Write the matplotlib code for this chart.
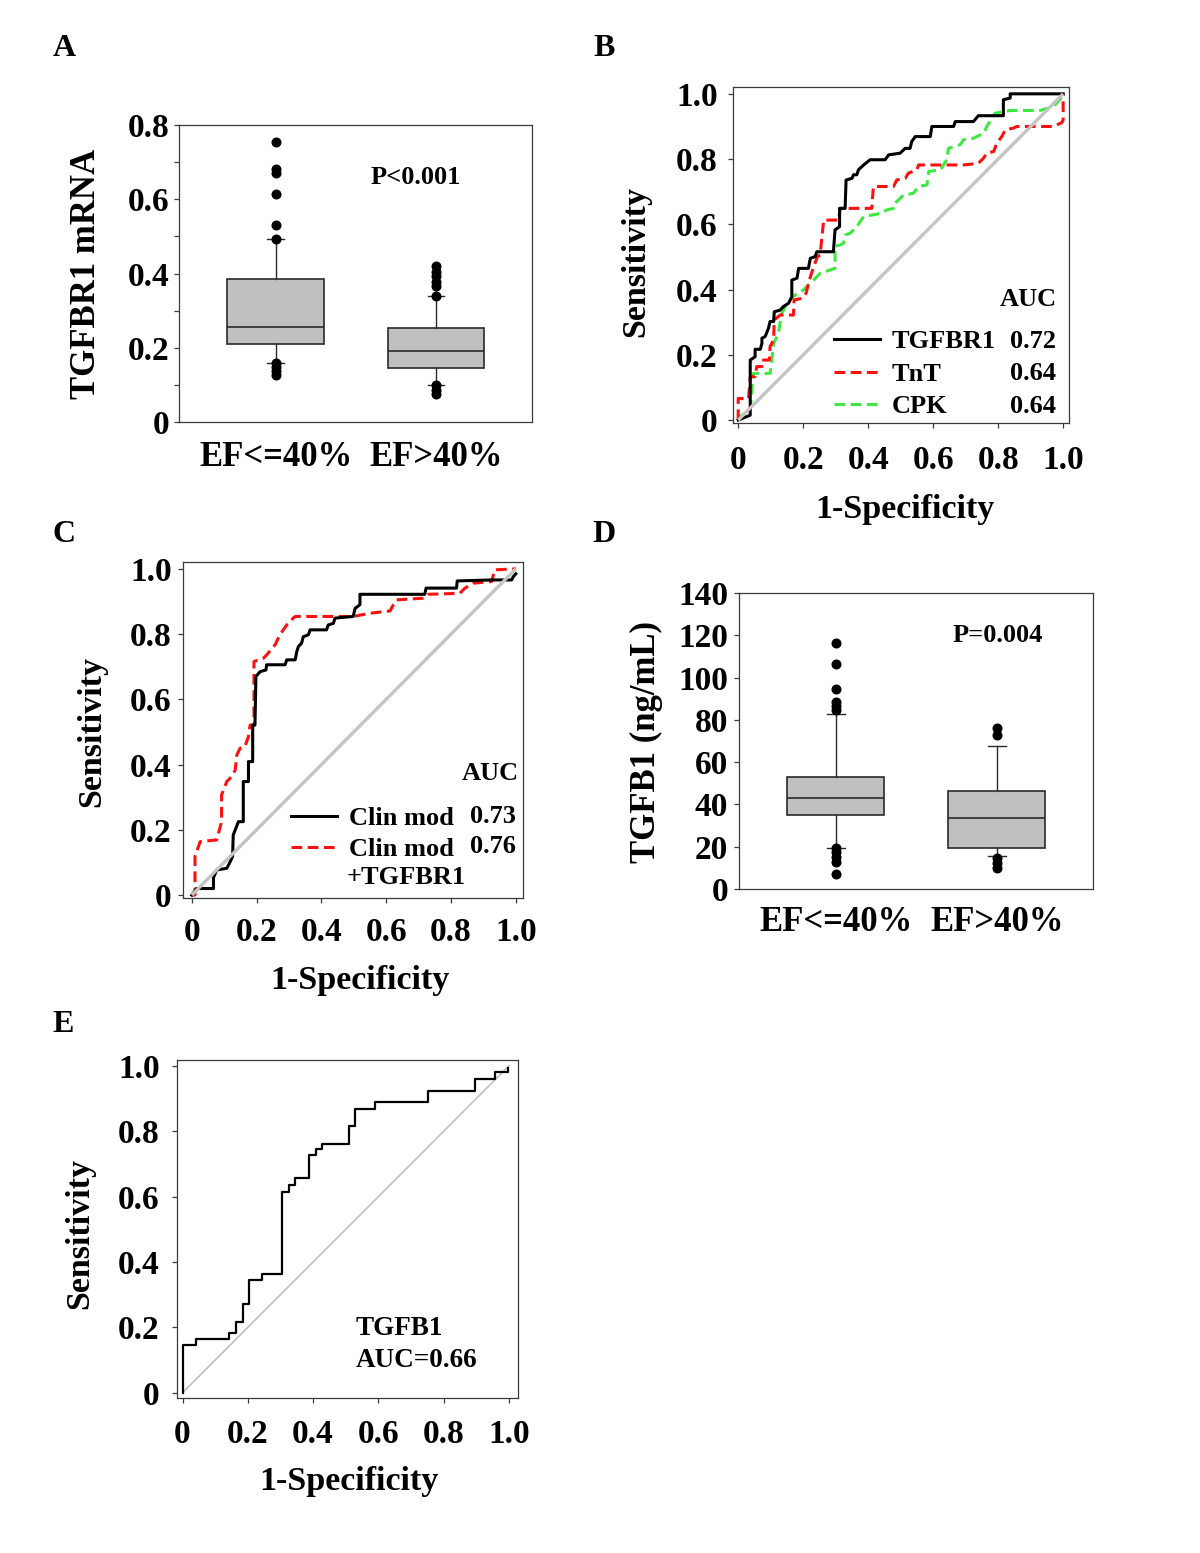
import matplotlib
matplotlib.use("Agg")
import matplotlib.pyplot as plt
from matplotlib.lines import Line2D

plt.rcParams['font.family'] = ['Liberation Serif', 'DejaVu Serif']
plt.rcParams['font.weight'] = 'bold'
plt.rcParams['axes.labelweight'] = 'bold'

# ---------------- data ----------------
groups = ['EF<=40%', 'EF>40%']

# Panel A: TGFBR1 mRNA box plots
a_q1 = [0.211, 0.145]
a_med = [0.257, 0.191]
a_q3 = [0.386, 0.253]
a_whislo = [0.160, 0.099]
a_whishi = [0.492, 0.340]
a_fliers_1 = [0.755, 0.681, 0.672, 0.615, 0.531, 0.492, 0.160, 0.149, 0.138, 0.126]
a_fliers_2 = [0.419, 0.405, 0.392, 0.377, 0.367, 0.340, 0.099, 0.086, 0.075]
a_pvalue = 'P<0.001'

# Panel D: TGFB1 (ng/mL) box plots
d_q1 = [35.0, 19.2]
d_med = [42.9, 33.4]
d_q3 = [53.1, 46.5]
d_whislo = [19.2, 15.6]
d_whishi = [82.6, 67.5]
d_fliers_1 = [116.2, 106.4, 94.5, 88.3, 86.7, 84.7, 19.2, 17.6, 15.3, 12.6, 7.0]
d_fliers_2 = [76.0, 72.8, 14.8, 12.4, 9.8]
d_pvalue = 'P=0.004'

# Panel B: ROC curves
b_tgfbr1_fpr = [0.000, 0.025, 0.037, 0.037, 0.052, 0.052, 0.068, 0.073, 0.073, 0.083, 0.093, 0.098,
                0.109, 0.111, 0.129, 0.139, 0.155, 0.165, 0.165, 0.181, 0.186, 0.216, 0.222, 0.237,
                0.242, 0.293, 0.298, 0.312, 0.312, 0.329, 0.332, 0.350, 0.355, 0.365, 0.370, 0.386,
                0.406, 0.452, 0.463, 0.498, 0.514, 0.529, 0.534, 0.545, 0.591, 0.596, 0.663, 0.668,
                0.724, 0.739, 0.816, 0.816, 0.837, 0.837, 1.000]
b_tgfbr1_tpr = [0.000, 0.010, 0.015, 0.184, 0.194, 0.217, 0.217, 0.235, 0.251, 0.256, 0.281, 0.302,
                0.302, 0.332, 0.337, 0.348, 0.358, 0.378, 0.429, 0.435, 0.465, 0.465, 0.496, 0.501,
                0.516, 0.516, 0.583, 0.593, 0.649, 0.649, 0.736, 0.741, 0.752, 0.752, 0.767, 0.782,
                0.798, 0.798, 0.813, 0.818, 0.833, 0.833, 0.854, 0.869, 0.869, 0.900, 0.900, 0.915,
                0.915, 0.933, 0.933, 0.982, 0.987, 1.000, 1.000]
b_tnt_fpr = [0.000, 0.000, 0.032, 0.037, 0.052, 0.057, 0.073, 0.073, 0.096, 0.098, 0.109, 0.111,
             0.129, 0.170, 0.172, 0.196, 0.209, 0.219, 0.232, 0.244, 0.252, 0.263, 0.309, 0.314,
             0.411, 0.416, 0.478, 0.488, 0.514, 0.524, 0.550, 0.555, 0.693, 0.739, 0.755, 0.765,
             0.786, 0.796, 0.811, 0.822, 0.847, 0.857, 0.970, 0.996, 1.000, 1.000]
b_tnt_tpr = [0.000, 0.066, 0.066, 0.133, 0.133, 0.164, 0.164, 0.184, 0.184, 0.225, 0.245, 0.307,
             0.322, 0.322, 0.368, 0.373, 0.389, 0.429, 0.470, 0.501, 0.506, 0.613, 0.613, 0.649,
             0.649, 0.716, 0.716, 0.736, 0.741, 0.757, 0.767, 0.782, 0.782, 0.787, 0.803, 0.818,
             0.823, 0.849, 0.869, 0.890, 0.895, 0.900, 0.900, 0.912, 0.920, 1.000]
b_cpk_fpr = [0.000, 0.001, 0.022, 0.037, 0.042, 0.047, 0.098, 0.104, 0.109, 0.124, 0.127, 0.134,
             0.145, 0.160, 0.181, 0.201, 0.216, 0.232, 0.252, 0.298, 0.298, 0.314, 0.324, 0.329,
             0.345, 0.365, 0.386, 0.442, 0.457, 0.478, 0.478, 0.509, 0.539, 0.555, 0.581, 0.586,
             0.622, 0.642, 0.647, 0.683, 0.693, 0.724, 0.755, 0.765, 0.791, 0.837, 0.929, 0.970,
             1.000]
b_cpk_tpr = [0.000, 0.010, 0.020, 0.031, 0.092, 0.143, 0.143, 0.189, 0.235, 0.266, 0.286, 0.327,
             0.348, 0.368, 0.389, 0.399, 0.414, 0.429, 0.450, 0.465, 0.532, 0.537, 0.542, 0.567,
             0.573, 0.593, 0.624, 0.634, 0.644, 0.649, 0.660, 0.690, 0.695, 0.716, 0.721, 0.762,
             0.767, 0.798, 0.833, 0.844, 0.859, 0.864, 0.879, 0.900, 0.941, 0.949, 0.949, 0.961,
             0.994]
b_names = ['TGFBR1', 'TnT', 'CPK']
b_auc = ['0.72', '0.64', '0.64']

# Panel C: ROC curves
c_clin_fpr = [0.000, 0.015, 0.067, 0.067, 0.077, 0.108, 0.116, 0.126, 0.128, 0.144, 0.159, 0.159,
              0.175, 0.175, 0.188, 0.188, 0.195, 0.198, 0.211, 0.229, 0.231, 0.288, 0.293, 0.319,
              0.324, 0.329, 0.339, 0.344, 0.360, 0.365, 0.416, 0.421, 0.437, 0.442, 0.498, 0.504,
              0.519, 0.519, 0.719, 0.723, 0.817, 0.819, 0.925, 0.987, 0.992, 1.000]
c_clin_tpr = [0.000, 0.020, 0.020, 0.053, 0.077, 0.082, 0.097, 0.118, 0.184, 0.225, 0.225, 0.348,
              0.348, 0.409, 0.409, 0.521, 0.521, 0.670, 0.685, 0.690, 0.706, 0.706, 0.721, 0.721,
              0.746, 0.762, 0.772, 0.792, 0.798, 0.813, 0.813, 0.828, 0.833, 0.849, 0.854, 0.879,
              0.890, 0.922, 0.922, 0.941, 0.941, 0.963, 0.966, 0.966, 0.976, 0.985]
c_comb_fpr = [0.000, 0.010, 0.010, 0.026, 0.077, 0.092, 0.092, 0.108, 0.123, 0.134, 0.139, 0.149,
              0.164, 0.175, 0.180, 0.192, 0.192, 0.206, 0.221, 0.231, 0.257, 0.272, 0.293, 0.313,
              0.319, 0.498, 0.550, 0.612, 0.622, 0.632, 0.714, 0.730, 0.827, 0.843, 0.868, 0.925,
              0.935, 1.000]
c_comb_tpr = [0.000, 0.000, 0.118, 0.164, 0.169, 0.225, 0.307, 0.348, 0.363, 0.383, 0.429, 0.450,
              0.455, 0.486, 0.521, 0.521, 0.716, 0.721, 0.726, 0.736, 0.767, 0.798, 0.828, 0.849,
              0.854, 0.854, 0.864, 0.871, 0.890, 0.905, 0.910, 0.922, 0.925, 0.941, 0.956, 0.961,
              0.997, 1.000]
c_names = ['Clin mod', 'Clin mod']
c_auc = ['0.73', '0.76']

# Panel E: ROC curve (step)
e_fpr = [0.000, 0.000, 0.041, 0.143, 0.163, 0.184, 0.203, 0.242, 0.306, 0.326, 0.346, 0.386,
         0.408, 0.428, 0.510, 0.528, 0.589, 0.753, 0.896, 0.957, 0.998]
e_tpr = [0.000, 0.146, 0.163, 0.182, 0.217, 0.271, 0.345, 0.363, 0.615, 0.636, 0.656, 0.726,
         0.745, 0.761, 0.816, 0.869, 0.889, 0.924, 0.960, 0.980, 0.993]

chance = [0.0, 1.0]
roc_ticks = [0.0, 0.2, 0.4, 0.6, 0.8, 1.0]
roc_ticklabels = ['0', '0.2', '0.4', '0.6', '0.8', '1.0']

# ---------------- figure ----------------
W, H = 1200, 1553
fig = plt.figure(figsize=(W / 100, H / 100), dpi=100)

SPINE = '#3a3a3a'
DIAG = '#c4c4c4'
BOX_FILL = '#c0c0c0'
RED = '#ff1010'
GREEN = '#3fe83f'
TICK_FS = 24
LAB_FS = 24.5


def add_ax(l, t, r, b):
    return fig.add_axes([l / W, 1 - b / H, (r - l) / W, (b - t) / H])


def style(ax):
    for s in ax.spines.values():
        s.set_color(SPINE)
        s.set_linewidth(0.9)
    ax.tick_params(which='both', direction='out', length=3.5, width=0.9, color=SPINE,
                   labelsize=TICK_FS)


def box_panel(ax, q1, med, q3, lo, hi, fl1, fl2, ylim, yticks, yticklabels, capw, xpad):
    stats = []
    for i, fl in enumerate([fl1, fl2]):
        stats.append(dict(q1=q1[i], med=med[i], q3=q3[i], whislo=lo[i], whishi=hi[i],
                          fliers=fl, label=groups[i]))
    ax.bxp(stats, positions=[1, 2], widths=0.603, patch_artist=True, showfliers=True,
           boxprops=dict(facecolor=BOX_FILL, edgecolor='#2a2a2a', linewidth=1.2),
           medianprops=dict(color='#2a2a2a', linewidth=1.2),
           whiskerprops=dict(color='#2a2a2a', linewidth=1.0),
           capprops=dict(color='#2a2a2a', linewidth=1.0),
           flierprops=dict(marker='o', markerfacecolor='black', markeredgecolor='black',
                           markersize=6.2, linestyle='none'),
           capwidths=capw)
    style(ax)
    ax.set_xlim(0.398, 2.598)
    ax.set_ylim(*ylim)
    ax.set_yticks(yticks)
    ax.set_yticklabels(yticklabels)
    ax.set_xticks([1, 2])
    ax.set_xticklabels(groups, fontsize=25)
    ax.tick_params(axis='x', length=0, pad=xpad)


def roc_axes(ax, xlim, ylim):
    style(ax)
    ax.set_xlim(*xlim)
    ax.set_ylim(*ylim)
    ax.set_xticks(roc_ticks)
    ax.set_xticklabels(roc_ticklabels)
    ax.set_yticks(roc_ticks)
    ax.set_yticklabels(roc_ticklabels)


# ---- Panel A ----
axA = add_ax(179, 125, 532, 422)
box_panel(axA, a_q1, a_med, a_q3, a_whislo, a_whishi, a_fliers_1, a_fliers_2,
          (0, 0.8), [0, 0.2, 0.4, 0.6, 0.8], ['0', '0.2', '0.4', '0.6', '0.8'], 0.105, 13.5)
axA.set_yticks([0.1, 0.3, 0.5, 0.7], minor=True)
axA.tick_params(axis='y', pad=3.5)
axA.set_ylabel('TGFBR1 mRNA', fontsize=25, va='center')
axA.yaxis.set_label_coords(-0.262, 0.5)
axA.text(0.671, 0.822, a_pvalue, transform=axA.transAxes, ha='center', va='center', fontsize=19)

# ---- Panel D ----
axD = add_ax(739, 593, 1093, 889)
box_panel(axD, d_q1, d_med, d_q3, d_whislo, d_whishi, d_fliers_1, d_fliers_2,
          (0, 140), list(range(0, 141, 20)), [str(v) for v in range(0, 141, 20)], 0.11, 12.5)
axD.tick_params(axis='y', pad=4.5)
axD.set_ylabel('TGFB1 (ng/mL)', fontsize=25, va='center')
axD.yaxis.set_label_coords(-0.262, 0.497)
axD.text(0.732, 0.855, d_pvalue, transform=axD.transAxes, ha='center', va='center', fontsize=19)

# ---- Panel B ----
axB = add_ax(733, 87, 1069, 423)
roc_axes(axB, (-0.016, 1.018), (-0.009, 1.021))
axB.plot(b_cpk_fpr, b_cpk_tpr, color=GREEN, lw=2.2, dashes=[3.5, 1.8], zorder=3)
axB.plot(b_tnt_fpr, b_tnt_tpr, color=RED, lw=2.2, dashes=[3.5, 1.8], zorder=4)
axB.plot(b_tgfbr1_fpr, b_tgfbr1_tpr, color='black', lw=2.2, zorder=5)
axB.plot(chance, chance, color=DIAG, lw=2.4, zorder=6, solid_capstyle='butt')
axB.tick_params(axis='y', pad=7.5)
axB.tick_params(axis='x', pad=12)
axB.set_ylabel('Sensitivity', fontsize=LAB_FS, va='center')
axB.yaxis.set_label_coords(-0.289, 0.48)
axB.set_xlabel('1-Specificity', fontsize=LAB_FS, va='center')
axB.xaxis.set_label_coords(0.512, -0.256)
hB = [Line2D([], [], color='black', lw=2.2),
      Line2D([], [], color=RED, lw=2.2, dashes=[3.5, 1.8]),
      Line2D([], [], color=GREEN, lw=2.2, dashes=[3.5, 1.8])]
axB.legend(hB, b_names, loc='upper left', bbox_to_anchor=(0.300, 0.277), frameon=False,
           fontsize=19, handlelength=1.75, handletextpad=0.45, labelspacing=0.34,
           borderpad=0, borderaxespad=0)
axB.text(0.964, 0.369, 'AUC', transform=axB.transAxes, ha='right', va='center', fontsize=19)
for yf, v in zip([0.242, 0.146, 0.050], b_auc):
    axB.text(0.961, yf, v, transform=axB.transAxes, ha='right', va='center', fontsize=19)

# ---- Panel C ----
axC = add_ax(183, 562, 523, 898)
roc_axes(axC, (-0.027, 1.022), (-0.009, 1.021))
axC.plot(c_comb_fpr, c_comb_tpr, color=RED, lw=2.2, dashes=[3.5, 1.8], zorder=4)
axC.plot(c_clin_fpr, c_clin_tpr, color='black', lw=2.2, zorder=5)
axC.plot(chance, chance, color=DIAG, lw=2.4, zorder=6, solid_capstyle='butt')
axC.tick_params(axis='y', pad=4.7)
axC.tick_params(axis='x', pad=10)
axC.set_ylabel('Sensitivity', fontsize=LAB_FS, va='center')
axC.yaxis.set_label_coords(-0.268, 0.497)
axC.set_xlabel('1-Specificity', fontsize=LAB_FS, va='center')
axC.xaxis.set_label_coords(0.52, -0.247)
hC = [Line2D([], [], color='black', lw=2.2),
      Line2D([], [], color=RED, lw=2.2, dashes=[3.5, 1.8])]
axC.legend(hC, c_names, loc='upper left', bbox_to_anchor=(0.318, 0.271), frameon=False,
           fontsize=19, handlelength=1.75, handletextpad=0.45, labelspacing=0.27,
           borderpad=0, borderaxespad=0)
axC.text(0.988, 0.372, 'AUC', transform=axC.transAxes, ha='right', va='center', fontsize=19)
for yf, v in zip([0.244, 0.152], c_auc):
    axC.text(0.979, yf, v, transform=axC.transAxes, ha='right', va='center', fontsize=19)
axC.text(0.482, 0.0625, '+TGFBR1', transform=axC.transAxes, ha='left', va='center', fontsize=19)

# ---- Panel E ----
axE = add_ax(177, 1060, 518, 1398)
roc_axes(axE, (-0.017, 1.028), (-0.016, 1.018))
axE.plot(chance, chance, color=DIAG, lw=1.3, zorder=3)
axE.plot(e_fpr, e_tpr, color='black', lw=1.6, drawstyle='steps-post', zorder=4)
axE.tick_params(axis='y', pad=9)
axE.tick_params(axis='x', pad=11.5)
axE.set_ylabel('Sensitivity', fontsize=LAB_FS, va='center')
axE.yaxis.set_label_coords(-0.284, 0.488)
axE.set_xlabel('1-Specificity', fontsize=LAB_FS, va='center')
axE.xaxis.set_label_coords(0.504, -0.246)
axE.text(0.525, 0.207, 'TGFB1', transform=axE.transAxes, ha='left', va='center', fontsize=19.5)
axE.text(0.525, 0.112, 'AUC=0.66', transform=axE.transAxes, ha='left', va='center', fontsize=19.5)

# ---- panel letters ----
for letter, (px, py) in zip('ABCDE', [(64, 48), (604, 48), (64, 535), (604, 535), (63, 1025)]):
    fig.text(px / W, 1 - py / H, letter, ha='center', va='center', fontsize=23)

fig.savefig('out.png', dpi=100, facecolor='white')
